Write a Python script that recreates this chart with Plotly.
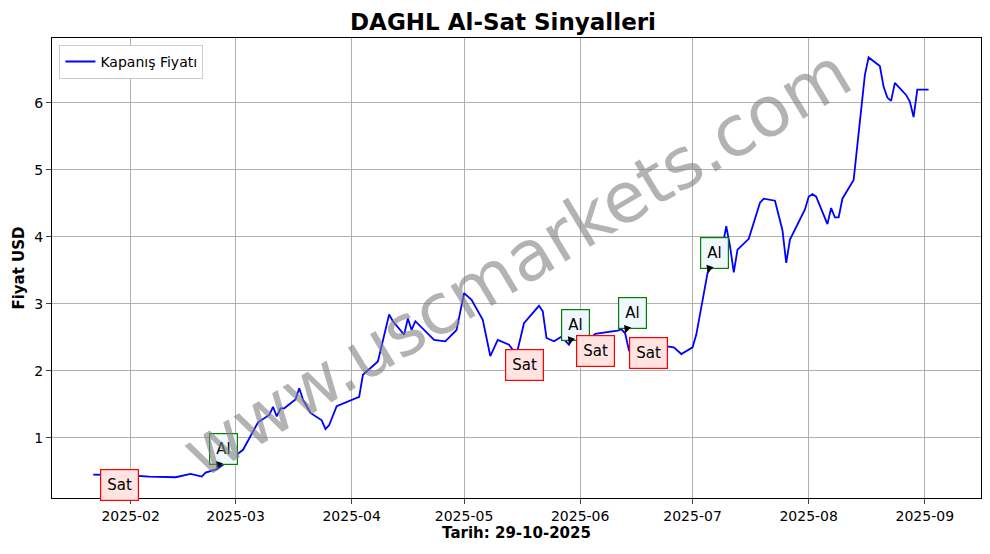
import plotly.graph_objects as go

dates = [
    "2025-01-22", "2025-01-31", "2025-02-06", "2025-02-13", "2025-02-17", "2025-02-20",
    "2025-02-21", "2025-02-24", "2025-02-27", "2025-03-03", "2025-03-07", "2025-03-10",
    "2025-03-11", "2025-03-12", "2025-03-13", "2025-03-14", "2025-03-17", "2025-03-18",
    "2025-03-19", "2025-03-21", "2025-03-24", "2025-03-25", "2025-03-26", "2025-03-28",
    "2025-04-03", "2025-04-04", "2025-04-08", "2025-04-11", "2025-04-12", "2025-04-15",
    "2025-04-16", "2025-04-17", "2025-04-18", "2025-04-23", "2025-04-26", "2025-04-29",
    "2025-05-01", "2025-05-03", "2025-05-06", "2025-05-08", "2025-05-10", "2025-05-13",
    "2025-05-15", "2025-05-17", "2025-05-21", "2025-05-22", "2025-05-23", "2025-05-25",
    "2025-05-27", "2025-05-29", "2025-05-30", "2025-06-03", "2025-06-05", "2025-06-11",
    "2025-06-12", "2025-06-13", "2025-06-14", "2025-06-17", "2025-06-26", "2025-06-28",
    "2025-07-01", "2025-07-02", "2025-07-05", "2025-07-07", "2025-07-09", "2025-07-10",
    "2025-07-11", "2025-07-12", "2025-07-13", "2025-07-16", "2025-07-19", "2025-07-20",
    "2025-07-23", "2025-07-25", "2025-07-26", "2025-07-27", "2025-07-31", "2025-08-01",
    "2025-08-02", "2025-08-03", "2025-08-06", "2025-08-07", "2025-08-08", "2025-08-09",
    "2025-08-10", "2025-08-13", "2025-08-16", "2025-08-17", "2025-08-20", "2025-08-21",
    "2025-08-22", "2025-08-23", "2025-08-24", "2025-08-27", "2025-08-28", "2025-08-29",
    "2025-08-30", "2025-09-02",
]
prices = [
    0.45, 0.44, 0.42, 0.41, 0.46, 0.42,
    0.48, 0.53, 0.65, 0.82, 1.23, 1.34,
    1.46, 1.32, 1.44, 1.44, 1.57, 1.74,
    1.57, 1.37, 1.26, 1.13, 1.19, 1.47,
    1.61, 1.94, 2.14, 2.84, 2.74, 2.54,
    2.78, 2.61, 2.74, 2.46, 2.44, 2.61,
    3.16, 3.06, 2.76, 2.22, 2.46, 2.39,
    2.24, 2.71, 2.97, 2.89, 2.49, 2.44,
    2.51, 2.39, 2.50, 2.45, 2.55, 2.60,
    2.62, 2.56, 2.31, 2.42, 2.35, 2.25,
    2.35, 2.54, 3.46, 3.63, 3.86, 4.16,
    3.86, 3.47, 3.81, 3.97, 4.51, 4.57,
    4.54, 4.10, 3.61, 3.96, 4.41, 4.60,
    4.64, 4.60, 4.19, 4.43, 4.29, 4.29,
    4.57, 4.85, 6.42, 6.68, 6.55, 6.24,
    6.08, 6.03, 6.30, 6.12, 6.02, 5.79,
    6.20, 6.20,
]

buy_dates = ["2025-02-24", "2025-05-29", "2025-06-13", "2025-07-05"]
buy_prices = [0.53, 2.39, 2.56, 3.46]
sell_dates = ["2025-01-27", "2025-05-15", "2025-06-03", "2025-06-17"]
sell_prices = [0.44, 2.24, 2.45, 2.42]

fig = go.Figure()
fig.add_trace(go.Scatter(x=dates, y=prices, mode="lines", name="Kapanış Fiyatı",
                         line=dict(color="blue", width=1.8)))

for d, p in zip(buy_dates, buy_prices):
    fig.add_annotation(x=d, y=p, text="Al", showarrow=True, arrowhead=2, arrowsize=1,
                       arrowwidth=1.5, arrowcolor="black", ax=7, ay=-20,
                       font=dict(size=15, color="black"), bgcolor="aliceblue",
                       bordercolor="green", borderwidth=1.2, borderpad=6)
for d, p in zip(sell_dates, sell_prices):
    fig.add_annotation(x=d, y=p, text="Sat", showarrow=True, arrowhead=2,
                       arrowwidth=1.5, arrowcolor="black", ax=8, ay=10,
                       font=dict(size=15, color="black"), bgcolor="mistyrose",
                       bordercolor="red", borderwidth=1.2, borderpad=6)

fig.add_annotation(text="www.uscmarkets.com", xref="paper", yref="paper", x=0.5, y=0.51,
                   showarrow=False, textangle=-31,
                   font=dict(size=70, color="rgba(128,128,128,0.6)"))

# page body adds an 8px offset, margins are shifted to compensate
fig.update_layout(
    width=990, height=554,
    margin=dict(l=44, r=17, t=30, b=64, autoexpand=False),
    plot_bgcolor="white", paper_bgcolor="white",
    font=dict(family="DejaVu Sans", size=14, color="black"),
    title=dict(text="<b>DAGHL Al-Sat Sinyalleri</b>", x=0.5, y=0.975, xanchor="center",
               yanchor="middle", font=dict(size=23), automargin=False),
    showlegend=True,
    legend=dict(x=0.008, y=0.985, xanchor="left", yanchor="top", bgcolor="white",
                bordercolor="#cccccc", borderwidth=1, font=dict(size=14)),
)
fig.update_xaxes(range=["2025-01-11", "2025-09-16"], tickformat="%Y-%m", dtick="M1",
                 automargin=False,
                 showgrid=True, gridcolor="#b0b0b0", showline=True, linecolor="black",
                 mirror=True, ticks="outside", tickfont=dict(size=14),
                 title=dict(text="<b>Tarih: 29-10-2025</b>", font=dict(size=15), standoff=4))
fig.update_yaxes(range=[0.1, 6.97], dtick=1, showgrid=True, gridcolor="#b0b0b0",
                 automargin=False,
                 showline=True, linecolor="black", mirror=True, ticks="outside",
                 tickfont=dict(size=14), zeroline=False,
                 title=dict(text="<b>Fiyat USD</b>", font=dict(size=15), standoff=6))

fig.write_html("out.html")
